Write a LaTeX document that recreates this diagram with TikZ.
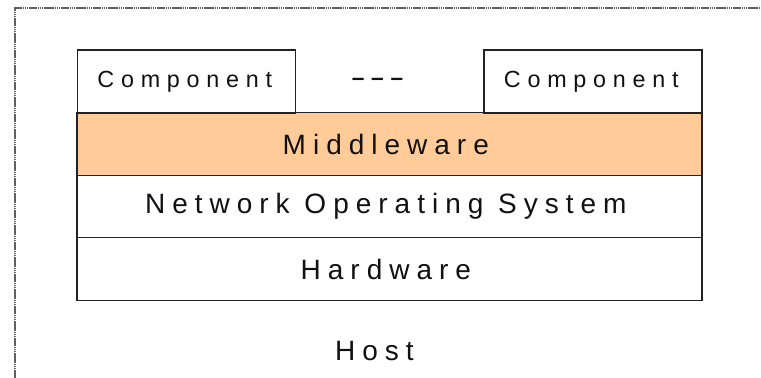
\documentclass[tikz,border=0pt]{standalone}
\usepackage{fontspec}
\setmainfont{Liberation Sans}
% wide letter spacing used for all labels
\newfontfamily\layerfont[LetterSpace=25]{Liberation Sans}
\newfontfamily\compfont[LetterSpace=29]{Liberation Sans}
\newfontfamily\dashfont[LetterSpace=30]{Liberation Sans Bold}
\definecolor{peach}{HTML}{FFCC99}
\definecolor{edge}{HTML}{222222}
\definecolor{ink}{HTML}{111111}
\definecolor{framegray}{HTML}{606060}
\begin{document}
\begin{tikzpicture}[x=0.75pt,y=-0.75pt,
  trail/.style={execute at end node={\hspace*{#1}}},
  layer/.style={draw=edge, line width=0.8pt, rectangle, inner sep=0pt,
    minimum width=468.75pt, minimum height=47pt, text=ink, trail=5.5pt,
    font=\layerfont\fontsize{21pt}{24pt}\selectfont},
  compbox/.style={draw=edge, line width=0.8pt, rectangle, inner sep=0pt,
    minimum width=164pt, minimum height=47.25pt, text=ink, trail=2.5pt,
    font=\compfont\fontsize{17.5pt}{20pt}\selectfont},
  plain/.style={inner sep=0pt, text=ink},
  frameline/.style={draw=framegray, line width=1.4pt, dash pattern=on 1.2pt off 0.4pt}]
\useasboundingbox (0,0) rectangle (761,378);

% host frame (top and left edges)
\coordinate (fbl) at (15,378);
\coordinate (ftl) at (15,8);
\coordinate (ftr) at (761,8);
\draw[frameline] (fbl) -- (ftl) -- (ftr);

% protocol stack
\node[layer, fill=peach] (mw) at (389.5,144) {Middleware};
\node[layer] (nos) at (389.5,206.5) {Network Operating System};
\node[layer] (hw) at (389.5,269) {Hardware};

\node[compbox] (c1) at (186.5,81.5) {Component};
\node[compbox, minimum width=163.5pt] (c2) at (593,81.5) {Component};
\node[plain, font=\dashfont\fontsize{17pt}{20pt}\selectfont] (dots) at (377.5,81.5) {–––};

\node[plain, trail=5.5pt, font=\layerfont\fontsize{21pt}{24pt}\selectfont] (host) at (378,351) {Host};
\end{tikzpicture}
\end{document}
